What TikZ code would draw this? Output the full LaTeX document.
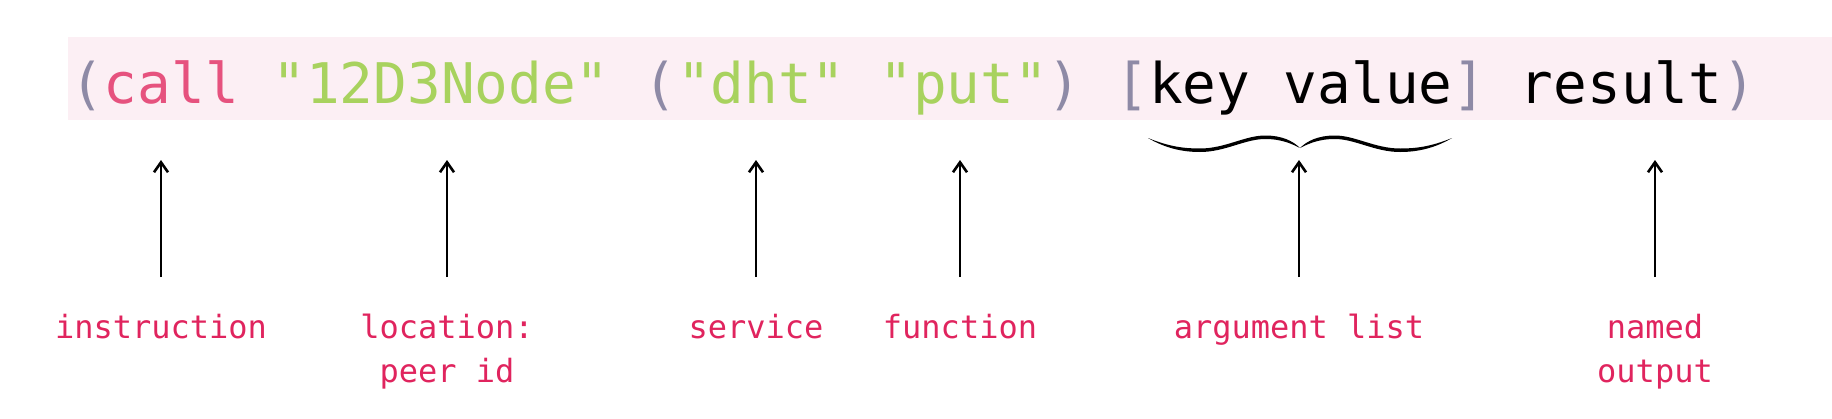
\documentclass[tikz,border=0pt]{standalone}
\usepackage{fontspec}
\setmonofont{DejaVu Sans Mono}
\usetikzlibrary{arrows.meta}
\definecolor{band}{HTML}{FCEFF4}
\definecolor{paren}{HTML}{8E8AA6}
\definecolor{kw}{HTML}{E6527E}
\definecolor{str}{HTML}{A8D25E}
\definecolor{lab}{HTML}{E0245E}
\begin{document}
\begin{tikzpicture}[x=1pt,y=-1pt,
  code/.style={font=\ttfamily\fontsize{56}{60}\selectfont, inner sep=0pt, anchor=base west},
  lbl/.style={font=\ttfamily\fontsize{32}{44}\selectfont, text=lab, inner sep=0pt, align=center, anchor=base},
  arr/.style={line width=2.6pt, -{Straight Barb[length=10pt,width=14pt,line width=2.6pt]}}]
\useasboundingbox (0,0) rectangle (1832,418);
\fill[band] (68,37) rectangle (1832,120);
\node[code] (code) at (70,103) {\textcolor{paren}{(}\textcolor{kw}{call} \textcolor{str}{"12D3Node"} \textcolor{paren}{(}\textcolor{str}{"dht"} \textcolor{str}{"put"}\textcolor{paren}{)} \textcolor{paren}{[}key value\textcolor{paren}{]} result\textcolor{paren}{)}};
% labels (base anchor of a two-line node is its last line)
\node[lbl] (l1) at (161,338) {instruction};
\node[lbl] (l2) at (447,382) {location:\\peer id};
\node[lbl] (l3) at (756,338) {service};
\node[lbl] (l4) at (960,338) {function};
\node[lbl] (l5) at (1299,338) {argument list};
\node[lbl] (l6) at (1655,382) {named\\output};
% arrows
\foreach \i/\x in {1/161,2/447,3/756,4/960,5/1299,6/1655}{
  \coordinate (b\i) at (\x,277);
  \coordinate (t\i) at (\x,160);
  \draw[arr] (b\i) -- (t\i);
}
% brace
\foreach \s in {1,-1}{
\begin{scope}[shift={(1300,0)}, xscale=\s]
\fill (-152,138) .. controls (-130,147) and (-115,148.5) .. (-100,148.5)
  .. controls (-75,148.5) and (-55,135.5) .. (-35,135.5)
  .. controls (-18,135.5) and (-7,141) .. (0,148)
  .. controls (-8,144) and (-18,139) .. (-35,139)
  .. controls (-55,139) and (-75,152) .. (-100,152)
  .. controls (-118,152) and (-135,148) .. (-152,138) -- cycle;
\end{scope}}
\end{tikzpicture}
\end{document}
